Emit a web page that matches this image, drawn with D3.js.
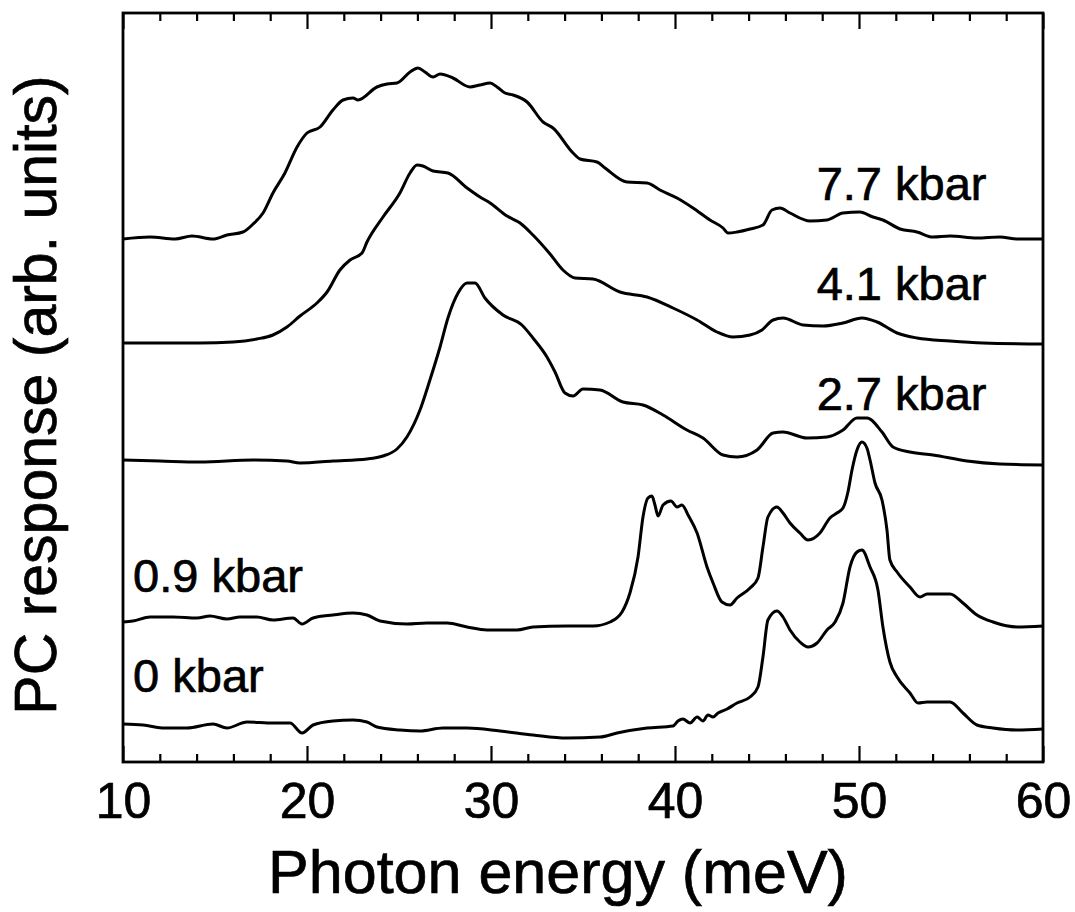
<!DOCTYPE html>
<html>
<head>
<meta charset="utf-8">
<script src="https://cdn.jsdelivr.net/npm/d3@7"></script>
<style>
  body { margin: 0; background: #fff; }
  text { font-family: "Liberation Sans", Arial, Helvetica, sans-serif; fill: #000; stroke: #000; stroke-width: 0.7px; }
</style>
</head>
<body>
<div id="chart"></div>
<script>
// photon energy (meV) vs PC response, curves stacked by pressure (arb. units)
var majorTicks = [10, 20, 30, 40, 50, 60];
var minorTicks = d3.range(12, 60, 2).filter(function(d) { return d % 10 != 0; });

var pressures = ["0 kbar", "0.9 kbar", "2.7 kbar", "4.1 kbar", "7.7 kbar"];

var kbar0 = [
  [10.0,0.38],[11.09,0.37],[12.28,0.34],[13.48,0.34],[14.89,0.38],[15.65,0.34],[16.74,0.40],
  [18.15,0.39],[19.08,0.39],[19.73,0.29],[20.33,0.37],[21.41,0.41],[22.50,0.42],[23.26,0.40],
  [23.80,0.35],[25.05,0.32],[26.14,0.31],[27.39,0.34],[28.70,0.34],[30.49,0.31],[32.28,0.27],
  [34.13,0.24],[35.92,0.25],[36.85,0.29],[38.48,0.34],[39.89,0.36],[40.16,0.41],[40.43,0.43],
  [40.82,0.39],[41.20,0.45],[41.52,0.41],[41.79,0.47],[42.07,0.45],[42.34,0.49],[42.83,0.53],
  [43.37,0.59],[44.08,0.65],[44.51,0.75],[44.78,1.05],[45.05,1.42],[45.54,1.51],[45.87,1.45],
  [46.25,1.32],[46.79,1.20],[47.23,1.15],[47.72,1.19],[48.26,1.32],[48.70,1.40],[49.13,1.59],
  [49.51,1.95],[49.89,2.10],[50.16,2.12],[50.60,1.95],[51.03,1.72],[51.30,1.35],[51.68,1.00],
  [52.07,0.85],[52.77,0.69],[53.21,0.59],[53.70,0.60],[54.95,0.60],[55.65,0.49],[56.41,0.37],
  [57.28,0.34],[58.59,0.32],[60.0,0.33]
];

var kbar09 = [
  [10.0,1.40],[10.54,1.41],[11.47,1.45],[12.72,1.45],[14.02,1.44],[14.73,1.46],[15.65,1.43],
  [16.36,1.45],[17.28,1.45],[18.15,1.42],[19.24,1.44],[19.73,1.38],[20.33,1.44],[21.41,1.47],
  [22.50,1.49],[23.26,1.47],[23.97,1.41],[25.43,1.38],[26.52,1.39],[27.61,1.39],[28.70,1.35],
  [29.78,1.32],[31.41,1.32],[32.28,1.35],[34.13,1.36],[35.54,1.36],[36.47,1.40],[37.12,1.50],
  [37.55,1.69],[37.99,2.05],[38.26,2.45],[38.53,2.64],[38.75,2.66],[38.91,2.57],[39.08,2.46],
  [39.35,2.57],[39.78,2.61],[40.11,2.55],[40.38,2.57],[40.71,2.47],[41.20,2.29],[41.74,1.95],
  [42.07,1.79],[42.55,1.60],[42.99,1.57],[43.37,1.64],[44.08,1.74],[44.51,1.84],[44.78,2.15],
  [45.05,2.45],[45.54,2.55],[45.87,2.49],[46.25,2.39],[46.79,2.29],[47.23,2.22],[47.88,2.29],
  [48.42,2.44],[48.80,2.49],[49.13,2.54],[49.40,2.70],[49.62,2.92],[49.89,3.12],[50.16,3.20],
  [50.43,3.14],[50.60,3.02],[50.87,2.79],[51.25,2.62],[51.52,2.32],[51.68,2.02],[52.07,1.90],
  [52.77,1.75],[53.32,1.65],[53.70,1.68],[54.95,1.68],[55.65,1.59],[56.41,1.47],[57.28,1.40],
  [58.59,1.35],[60.0,1.36]
];

var kbar27 = [
  [10.0,3.02],[12.01,3.01],[14.18,3.00],[17.07,3.02],[18.91,3.01],[19.62,2.99],[21.41,3.01],
  [23.26,3.03],[24.13,3.06],[24.89,3.13],[25.43,3.25],[26.14,3.52],[26.68,3.82],[27.23,4.15],
  [27.66,4.44],[28.21,4.69],[28.70,4.79],[29.13,4.79],[29.67,4.64],[30.65,4.47],[31.68,4.37],
  [32.28,4.24],[33.04,4.05],[33.48,3.90],[34.02,3.69],[34.46,3.66],[35.00,3.73],[35.92,3.72],
  [37.17,3.60],[38.26,3.57],[39.35,3.47],[40.65,3.32],[41.52,3.24],[42.61,3.07],[43.37,3.05],
  [44.46,3.12],[45.33,3.29],[45.87,3.30],[47.17,3.24],[48.26,3.25],[49.13,3.32],[49.89,3.44],
  [50.43,3.44],[51.25,3.30],[51.85,3.15],[52.77,3.10],[54.02,3.07],[55.87,3.01],[57.66,2.98],
  [60.0,2.97]
];

var kbar41 = [
  [10.0,4.19],[12.39,4.19],[14.18,4.19],[15.98,4.20],[17.28,4.23],[18.15,4.27],[18.91,4.35],
  [19.62,4.46],[20.54,4.59],[21.09,4.70],[21.79,4.92],[22.34,5.02],[22.99,5.09],[23.26,5.20],
  [24.13,5.45],[25.05,5.69],[25.60,5.89],[25.98,5.97],[26.30,5.96],[26.85,5.91],[27.66,5.89],
  [28.70,5.74],[29.40,5.65],[29.95,5.59],[30.87,5.46],[31.58,5.39],[32.28,5.27],[33.21,5.08],
  [33.91,4.92],[34.57,4.84],[35.54,4.83],[37.01,4.70],[38.48,4.65],[39.89,4.54],[41.20,4.42],
  [42.28,4.30],[43.15,4.25],[44.08,4.27],[44.73,4.32],[45.33,4.42],[45.87,4.44],[46.96,4.37],
  [48.04,4.36],[49.13,4.39],[50.16,4.44],[50.98,4.40],[52.07,4.29],[53.15,4.24],[54.95,4.21],
  [56.74,4.19],[60.0,4.18]
];

var kbar77 = [
  [10.0,5.23],[11.47,5.25],[12.83,5.23],[13.75,5.26],[14.89,5.23],[15.65,5.27],[16.52,5.30],
  [17.07,5.38],[17.61,5.49],[18.15,5.69],[18.80,5.89],[19.46,6.15],[20.00,6.29],[20.71,6.35],
  [21.41,6.52],[21.96,6.62],[22.50,6.64],[22.77,6.62],[23.80,6.75],[24.35,6.78],[24.89,6.79],
  [25.60,6.90],[26.03,6.94],[26.41,6.90],[26.85,6.85],[27.23,6.88],[27.93,6.84],[28.86,6.75],
  [29.40,6.77],[29.95,6.79],[30.33,6.75],[30.76,6.69],[31.20,6.67],[31.96,6.60],[32.83,6.40],
  [33.37,6.34],[34.46,6.09],[34.84,6.03],[35.76,6.00],[36.20,5.94],[37.39,5.80],[38.48,5.79],
  [39.18,5.72],[40.11,5.64],[40.98,5.54],[41.90,5.42],[42.61,5.34],[42.88,5.29],[43.37,5.30],
  [44.08,5.33],[44.78,5.37],[45.27,5.52],[45.71,5.54],[46.25,5.49],[47.34,5.41],[48.26,5.42],
  [49.13,5.49],[50.05,5.50],[50.76,5.45],[51.30,5.42],[52.23,5.33],[53.15,5.30],[54.02,5.25],
  [54.95,5.26],[56.41,5.24],[57.66,5.25],[58.59,5.23],[60.0,5.23]
];

var curves = [kbar0, kbar09, kbar27, kbar41, kbar77];

// label anchor: [energy, response] where each pressure label sits
var labelPos = [[10.55, 0.70], [10.55, 1.70], [47.7, 3.52], [47.7, 4.62], [47.7, 5.62]];

var W = 1075, H = 912;
var margin = {top: 13, right: 32, bottom: 150, left: 123};
var w = W - margin.left - margin.right;
var h = H - margin.top - margin.bottom;

var svg = d3.select("#chart").append("svg")
  .attr("width", W)
  .attr("height", H);

var g = svg.append("g")
  .attr("transform", "translate(" + margin.left + "," + margin.top + ")");

var x = d3.scaleLinear().domain([10, 60]).range([0, w]);
var y = d3.scaleLinear().domain([0, 7.49]).range([h, 0]);

// bottom axis, ticks point inward
var xAxis = g.append("g")
  .attr("transform", "translate(0," + h + ")")
  .call(d3.axisBottom(x).tickValues(majorTicks).tickSize(-16).tickPadding(20).tickFormat(d3.format("d")));
g.append("g")
  .attr("transform", "translate(0," + h + ")")
  .call(d3.axisBottom(x).tickValues(minorTicks).tickSize(-8).tickFormat(""));

// top axis
g.append("g")
  .call(d3.axisTop(x).tickValues(majorTicks).tickSize(-16).tickFormat(""));
g.append("g")
  .call(d3.axisTop(x).tickValues(minorTicks).tickSize(-8).tickFormat(""));

g.selectAll(".domain").remove();
g.selectAll(".tick line").attr("stroke", "#000").attr("stroke-width", 2.2);

xAxis.selectAll("text")
  .style("font-size", "50px")
  .attr("fill", "#000");

g.append("rect")
  .attr("width", w)
  .attr("height", h)
  .attr("fill", "none")
  .attr("stroke", "#000")
  .attr("stroke-width", 2.8);

var line = d3.line()
  .x(function(d) { return x(d[0]); })
  .y(function(d) { return y(d[1]); })
  .curve(d3.curveMonotoneX);

g.selectAll(".curve")
  .data(curves)
  .enter().append("path")
  .attr("class", "curve")
  .attr("d", line)
  .attr("fill", "none")
  .attr("stroke", "#000")
  .attr("stroke-width", 3)
  .attr("stroke-linejoin", "round");

g.selectAll(".plabel")
  .data(pressures)
  .enter().append("text")
  .attr("class", "plabel")
  .attr("x", function(d, i) { return x(labelPos[i][0]); })
  .attr("y", function(d, i) { return y(labelPos[i][1]); })
  .style("font-size", "47px")
  .text(function(d) { return d; });

// axis titles
svg.append("text")
  .attr("x", 558)
  .attr("y", 893)
  .attr("text-anchor", "middle")
  .style("font-size", "61px")
  .text("Photon energy (meV)");

svg.append("text")
  .attr("transform", "translate(56," + (margin.top + 382) + ") rotate(-90)")
  .attr("text-anchor", "middle")
  .style("font-size", "59px")
  .text("PC response (arb. units)");
</script>
</body>
</html>
